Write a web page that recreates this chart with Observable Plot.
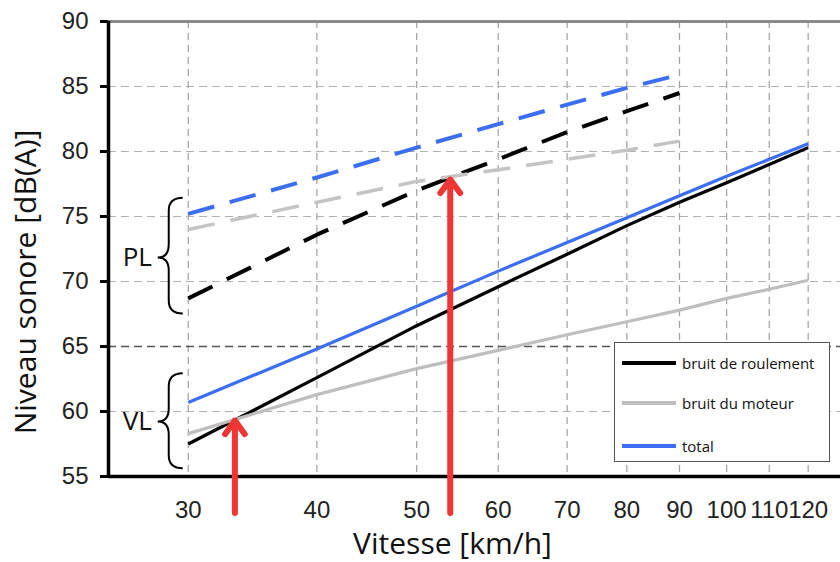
<!DOCTYPE html>
<html><head><meta charset="utf-8">
<script src="https://cdn.jsdelivr.net/npm/d3@7"></script>
<script src="https://cdn.jsdelivr.net/npm/@observablehq/plot@0.6"></script>
<style>
html,body{margin:0;padding:0;background:#fff;}
#wrap{position:relative;width:840px;height:562px;overflow:hidden;background:#fff;}
#legend{position:absolute;left:614px;top:342px;width:214px;height:118px;border:1.5px solid #555;background:#fff;font-family:"Open Sans",sans-serif;font-size:15px;color:#111;}
.item{position:absolute;left:7px;height:20px;display:flex;align-items:center;white-space:nowrap;}
.sw{width:54px;height:3.5px;margin-right:6px;}
</style></head><body><div id="wrap"></div>
<script>
// ---- data ----
const speedsVL = [30, 40, 50, 60, 70, 80, 90, 100, 110, 120];
const vlRoulement = [57.5, 62.6, 66.6, 69.6, 72.1, 74.3, 76.1, 77.6, 79.0, 80.3];
const vlMoteur    = [58.3, 61.3, 63.3, 64.7, 65.9, 66.9, 67.8, 68.7, 69.4, 70.1];
const vlTotal     = [60.7, 64.8, 68.1, 70.8, 73.0, 74.9, 76.6, 78.1, 79.4, 80.6];

const speedsPL = [30, 40, 50, 60, 70, 80, 90];
const plRoulement = [68.7, 73.6, 77.0, 79.4, 81.5, 83.1, 84.5];
const plMoteur    = [74.0, 76.1, 77.7, 78.6, 79.4, 80.1, 80.8];
const plTotal     = [75.2, 78.0, 80.3, 82.1, 83.6, 84.9, 85.9];

const seriesNames = ["bruit de roulement", "bruit du moteur", "total"];
const yTicks = [55, 60, 65, 70, 75, 80, 85, 90];
const xDomain = [25.1, 129];
const yDomain = [55, 90];

// annotations
const groups = ["PL", "VL"];
const braceTop = [76.4, 62.9];
const braceMid = [71.8, 59.2];
const braceBottom = [67.5, 55.6];
const arrowSpeeds = [33.3, 53.9];
const arrowBase = [52.2, 52.2];
const arrowTip = [59.3, 77.85];

const xTitle = "Vitesse [km/h]";
const yTitle = "Niveau sonore [dB(A)]";

// ---- styles ----
const colors = {"bruit de roulement": "#000000", "bruit du moteur": "#bebebe", "total": "#3b6ef2"};

function rows(speeds, vals, series, group) {
  return speeds.map((s, i) => ({speed: s, level: vals[i], series, group}));
}
const lineData = [
  ...rows(speedsVL, vlRoulement, "bruit de roulement", "VL"),
  ...rows(speedsVL, vlMoteur, "bruit du moteur", "VL"),
  ...rows(speedsVL, vlTotal, "total", "VL"),
  ...rows(speedsPL, plRoulement, "bruit de roulement", "PL"),
  ...rows(speedsPL, plMoteur, "bruit du moteur", "PL"),
  ...rows(speedsPL, plTotal, "total", "PL")
];

const lineMarks = [];
for (const g of ["PL", "VL"]) {
  for (const s of seriesNames) {
    const d = lineData.filter(r => r.group === g && r.series === s);
    lineMarks.push(Plot.line(d, {
      x: "speed", y: "level",
      stroke: g === "PL" && s === "bruit du moteur" ? "#c4c4c4" : colors[s],
      strokeWidth: g === "PL" ? (s === "bruit du moteur" ? 3.5 : 4) : 3.2,
      strokeDasharray: g === "PL" ? "27,16" : null,
      strokeLinecap: "butt",
      curve: "linear"
    }));
  }
}

function braces(index, scales) {
  const g = d3.create("svg:g").attr("fill", "none").attr("stroke", "#000").attr("stroke-width", 2);
  const x30 = scales.x(speedsVL[0]);
  const xe = x30 - 5, xv = x30 - 19, xp = x30 - 30;
  groups.forEach((name, i) => {
    const t = scales.y(braceTop[i]), m = scales.y(braceMid[i]), b = scales.y(braceBottom[i]);
    const r = 13;
    const p = `M${xe},${t} Q${xv},${t} ${xv},${t + r} L${xv},${m - r} Q${xv},${m} ${xp},${m} Q${xv},${m} ${xv},${m + r} L${xv},${b - r} Q${xv},${b} ${xe},${b}`;
    g.append("path").attr("d", p);
  });
  return g.node();
}

const plot = Plot.plot({
  width: 840, height: 562,
  marginLeft: 108, marginRight: 0, marginTop: 21, marginBottom: 86,
  x: {type: "log", domain: xDomain},
  y: {domain: yDomain},
  style: {fontFamily: "'Liberation Sans', Arial, sans-serif", fontSize: "24px", background: "#fff", color: "#222", overflow: "visible"},
  marks: [
    Plot.gridX({ticks: speedsVL, stroke: "#a0a0a0", strokeOpacity: 1, strokeWidth: 1.2, strokeDasharray: "7,5"}),
    Plot.gridY({ticks: yTicks.filter(v => v !== 65 && v !== yDomain[0] && v !== yDomain[1]), stroke: "#b0b0b0", strokeOpacity: 1, strokeWidth: 1.2, strokeDasharray: "8,5"}),
    Plot.ruleY([65], {stroke: "#555", strokeWidth: 1.4, strokeDasharray: "8,5"}),
    Plot.ruleY([yDomain[1]], {stroke: "#8a8a8a", strokeWidth: 3}),
    ...lineMarks,
    Plot.ruleY([yDomain[0]], {stroke: "#000", strokeWidth: 3.5}),
    Plot.ruleX([xDomain[0]], {stroke: "#000", strokeWidth: 3.5}),
    Plot.axisY({ticks: yTicks, tickSize: 8, tickPadding: 12, strokeWidth: 3, stroke: "#000", fontSize: 24, label: null, tickFormat: d => String(d)}),
    Plot.axisX({ticks: speedsVL, tickSize: 0, tickPadding: 24, fontSize: 24, label: null, tickFormat: d => String(d)}),
    Plot.arrow(arrowSpeeds, {
      x1: d => d, x2: d => d,
      y1: (d, i) => arrowBase[i], y2: (d, i) => arrowTip[i],
      stroke: "#f03535", strokeWidth: 6, headLength: 4.2, headAngle: 72
    }),
    Plot.text(groups, {x: () => speedsVL[0], y: (d, i) => braceMid[i], text: d => d, dx: -51, fontSize: 26, fontFamily: "'Open Sans', sans-serif", fill: "#111"}),
    braces,
    Plot.text([xTitle], {text: d => d, frameAnchor: "bottom", textAnchor: "middle", dx: -22, dy: 68, lineAnchor: "middle", fontSize: 30, fontFamily: "'Open Sans', sans-serif", fill: "#111"}),
    Plot.text([yTitle], {text: d => d, frameAnchor: "left", textAnchor: "middle", rotate: -90, dx: -82, dy: 33, lineAnchor: "middle", fontSize: 30, fontFamily: "'Open Sans', sans-serif", fill: "#111"})
  ]
});

const wrap = document.getElementById("wrap");
wrap.appendChild(plot);

// legend inside the plot area
const legend = document.createElement("div");
legend.id = "legend";
const legendTops = [10, 50, 93];
seriesNames.forEach((s, i) => {
  const it = document.createElement("div");
  it.className = "item";
  it.style.top = legendTops[i] + "px";
  const sw = document.createElement("span");
  sw.className = "sw";
  sw.style.background = colors[s];
  const tx = document.createElement("span");
  tx.textContent = s;
  it.appendChild(sw); it.appendChild(tx);
  legend.appendChild(it);
});
wrap.appendChild(legend);
</script>
</body></html>
